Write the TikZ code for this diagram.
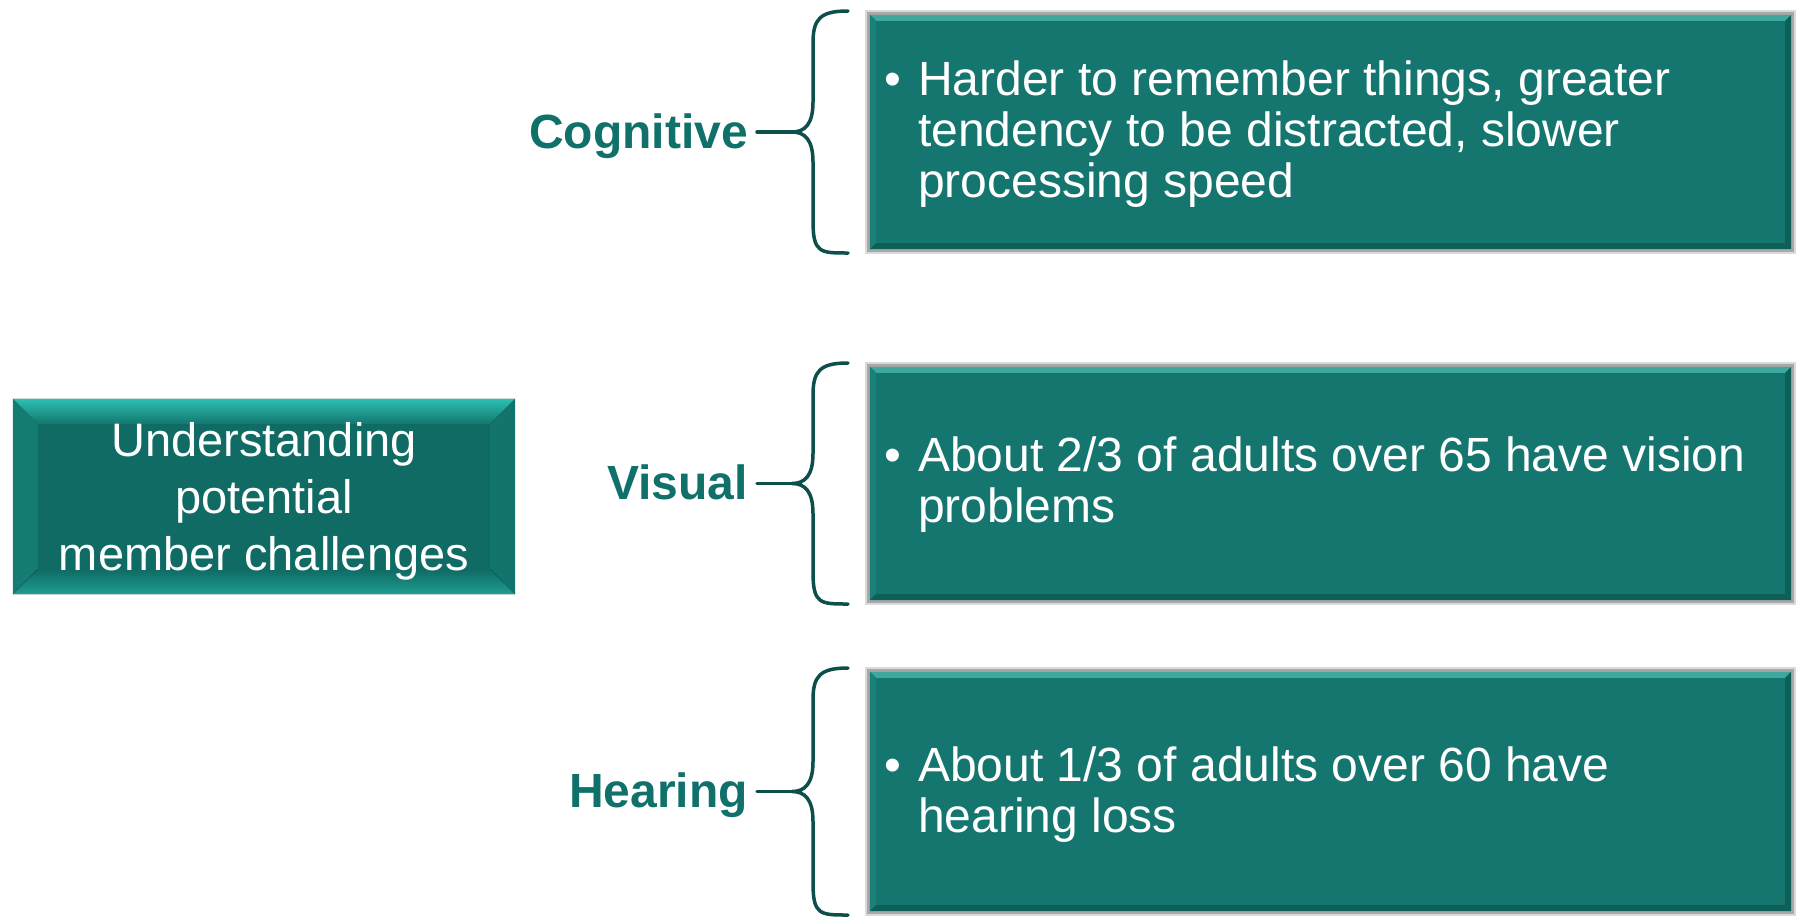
\documentclass[tikz,border=0pt]{standalone}
\usepackage{fontspec}
\setmainfont{Liberation Sans}
\definecolor{boxteal}{HTML}{14766F}
\definecolor{bevlight}{HTML}{3FA79D}
\definecolor{bevside}{HTML}{1A8078}
\definecolor{bevdark}{HTML}{0F5F59}
\definecolor{mainfill}{HTML}{0F6B64}
\definecolor{mainhi}{HTML}{2CBFB2}
\definecolor{mainlow}{HTML}{1E9C91}
\definecolor{labelteal}{HTML}{10706A}
\definecolor{bracecol}{HTML}{0D4F4A}
\definecolor{framelight}{HTML}{DADADA}
\definecolor{framedark}{HTML}{A8A8A8}
\begin{document}
\begin{tikzpicture}[x=1pt, y=-1pt, line join=round, line cap=round,
	factbox/.style={rectangle, fill=boxteal, minimum width=921pt, inner sep=0pt},
	facttext/.style={anchor=west, align=left, inner sep=0pt, text=white, font=\fontsize{48pt}{51pt}\selectfont},
	mainbox/.style={rectangle, fill=mainfill, minimum width=502pt, minimum height=195pt, inner sep=0pt},
	maintext/.style={align=center, inner sep=0pt, text=white, font=\fontsize{47pt}{57pt}\selectfont},
	sidelabel/.style={anchor=base east, inner xsep=9pt, inner ysep=0pt, text=labelteal, font=\bfseries\fontsize{48pt}{52pt}\selectfont},
	brace/.style={draw=bracecol, line width=3.5pt}]
	\useasboundingbox (0,0) rectangle (1796,916);
	\node[mainbox] (main) at (264,496.5) {};
	\fill[top color=mainhi, bottom color=mainfill!85!mainhi] (main.north west) -- (main.north east) -- ([shift={(-25,25)}]main.north east) -- ([shift={(25,25)}]main.north west) -- cycle;
	\fill[mainfill!80!mainhi] (main.north west) -- ([shift={(25,25)}]main.north west) -- ([shift={(25,-25)}]main.south west) -- (main.south west) -- cycle;
	\fill[mainfill!90!mainhi] (main.north east) -- ([shift={(-25,25)}]main.north east) -- ([shift={(-25,-25)}]main.south east) -- (main.south east) -- cycle;
	\fill[top color=mainfill, bottom color=mainlow] (main.south west) -- ([shift={(25,-25)}]main.south west) -- ([shift={(-25,-25)}]main.south east) -- (main.south east) -- cycle;
	\node[maintext] (maintxt) at ([shift={(0,5)}]main.center) {Understanding\\potential\\member challenges};
	\foreach \n/\yc/\hh/\lab in {cog/132/234/Cognitive, vis/483.5/233/Visual, hear/791.5/239/Hearing}{
		\pgfmathsetmacro\ya{\yc-\hh/2}\pgfmathsetmacro\yb{\yc+\hh/2}
		\fill[framelight] (865,\ya-5) rectangle (1796,\yb+5);
		\fill[framedark] (867,\ya-3) rectangle (1794,\yb+3);
		\node[factbox, minimum height=\hh pt] (\n) at (1330.5,\yc) {};
		\fill[bevlight] (\n.north west) -- (\n.north east) -- ([shift={(-6,6)}]\n.north east) -- ([shift={(6,6)}]\n.north west) -- cycle;
		\fill[bevside] (\n.north west) -- ([shift={(6,6)}]\n.north west) -- ([shift={(6,-6)}]\n.south west) -- (\n.south west) -- cycle;
		\fill[bevdark] (\n.south west) -- ([shift={(6,-6)}]\n.south west) -- ([shift={(-6,-6)}]\n.south east) -- (\n.south east) -- cycle;
		\fill[bevdark] (\n.north east) -- ([shift={(-6,6)}]\n.north east) -- ([shift={(-6,-6)}]\n.south east) -- (\n.south east) -- cycle;
		\coordinate (\n-tip) at (792,\yc);
		\draw[brace] (848,\ya-4) .. controls (820,\ya-4) and (813,\ya+4) .. (813,\ya+28) -- (813,\yc-30) .. controls (813,\yc-8) and (805,\yc) .. (\n-tip) .. controls (805,\yc) and (813,\yc+8) .. (813,\yc+30) -- (813,\yb-28) .. controls (813,\yb+4) and (820,\yb+4) .. (848,\yb+4);
		\node[sidelabel] (\n-lab) at (757,\yc+16) {\lab};
		\draw[brace] (\n-tip) -- (\n-lab.east |- \n-tip);
	}
	\node[facttext] (cogtxt) at (918,134) {\llap{•\hspace{17pt}}Harder to remember things, greater\\tendency to be distracted, slower\\processing speed};
	\node[facttext] (vistxt) at (918,485) {\llap{•\hspace{17pt}}About 2/3 of adults over 65 have vision\\problems};
	\node[facttext] (heartxt) at (918,795) {\llap{•\hspace{17pt}}About 1/3 of adults over 60 have\\hearing loss};
\end{tikzpicture}
\end{document}
